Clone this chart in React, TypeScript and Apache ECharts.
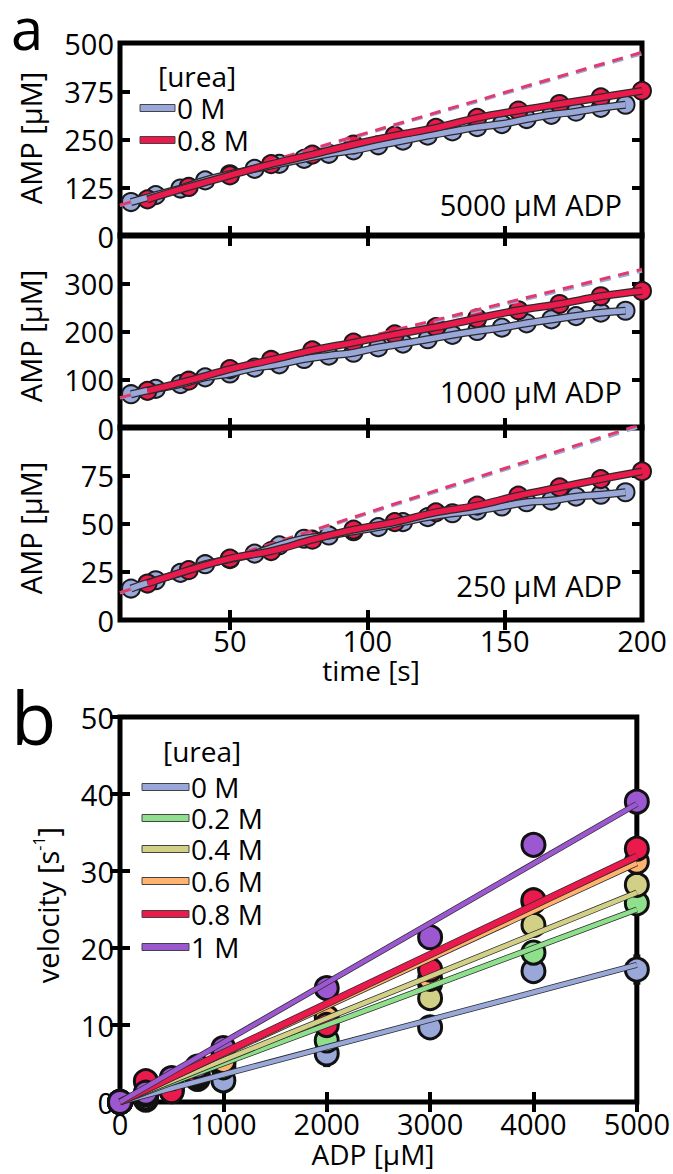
import React, { useEffect, useRef } from "react";
import * as echarts from "echarts";

const FONT = "'Open Sans', sans-serif";

// ---------- Panel a data ----------
const T_BLUE = [14, 23, 32, 41, 50, 59, 68, 77, 86, 95, 104, 113, 122, 131, 140, 149, 158, 167, 176, 185, 194];
const T_RED = [20, 35, 50, 65, 80, 95, 110, 125, 140, 155, 170, 185, 200];
const TIME_TICKS = [50, 100, 150, 200];
const DASH_T = [10, 200];

const AMP5000_0M = [88, 106, 123, 144, 160, 174, 187, 200, 213, 222, 235, 247, 260, 271, 282, 290, 303, 314, 322, 332, 340];
const AMP5000_08M = [95, 127, 157, 186, 211, 237, 260, 280, 306, 325, 342, 359, 376];
const AMP1000_0M = [70, 81, 91, 105, 113, 125, 132, 143, 150, 156, 167, 175, 184, 193, 201, 208, 217, 225, 232, 239, 243];
const AMP1000_08M = [77, 98, 122, 141, 161, 177, 194, 209, 227, 244, 257, 273, 284];
const AMP250_0M = [16.3, 20.6, 24.4, 28.9, 31.5, 34.4, 38.7, 42.1, 43.8, 46, 48.1, 50.7, 53.3, 55.3, 56.7, 58.8, 61, 61.9, 63.9, 64.9, 66.2];
const AMP250_08M = [18.9, 25.8, 31.8, 35.7, 41.6, 46.8, 50.7, 55.8, 59.3, 64.4, 68.7, 73, 77];

const DASH5000_0M = [79, 472];
const DASH5000_08M = [80, 476];
const DASH1000_0M = [62, 325];
const DASH1000_08M = [63, 329];
const DASH250_0M = [14, 100.5];
const DASH250_08M = [14.2, 101.5];

const PANEL_LABELS = ["5000 μM ADP", "1000 μM ADP", "250 μM ADP"];
const Y_MAX = [500, 400, 100];
const Y_STEP = [125, 100, 25];
const A_LEGEND = ["0 M", "0.8 M"];

// ---------- Panel b data ----------
const ADP = [0, 250, 500, 750, 1000, 2000, 3000, 4000, 5000];
const UREA = ["0 M", "0.2 M", "0.4 M", "0.6 M", "0.8 M", "1 M"];
const V_0 = [0, 0.8, 1.5, 3.0, 2.8, 6.3, 9.7, 17.0, 17.2];
const V_02 = [0, 0.3, 1.8, 3.2, 4.5, 8.0, 15.4, 19.4, 25.8];
const V_04 = [0, 0.6, 2.0, 3.4, 5.0, 10.5, 13.5, 23.0, 28.2];
const V_06 = [0, 1.0, 2.2, 3.6, 5.3, 11.0, 16.0, 26.0, 31.2];
const V_08 = [0, 2.7, 1.4, 3.8, 6.5, 10.0, 17.2, 26.2, 32.9];
const V_1 = [0, 1.2, 3.1, 4.6, 7.0, 14.8, 21.4, 33.4, 39.0];
const E_0 = [0.2, 0.3, 0.3, 0.4, 0.6, 1.6, 0.7, 0.5, 1.8];
const E_02 = [0.2, 0.3, 0.4, 0.4, 0.6, 1.2, 0.8, 0.6, 0.8];
const E_04 = [0.2, 0.3, 0.4, 0.4, 0.6, 0.9, 0.7, 0.6, 0.8];
const E_06 = [0.2, 0.4, 0.4, 0.5, 0.7, 1.5, 0.8, 0.6, 0.9];
const E_08 = [0.2, 0.5, 0.4, 0.5, 0.7, 1.0, 0.6, 0.9, 0.7];
const E_1 = [0.2, 0.3, 0.4, 0.4, 0.6, 0.3, 0.5, 0.6, 0.4];
const FIT_X = [0, 5000];
const FIT_END = [17.8, 25.0, 27.2, 31.0, 31.9, 38.7];

const BLUE = "#9aa7d9";
const RED = "#ea1a4d";
const B_COLORS = ["#99a7d9", "#8fe08c", "#d2cf86", "#ffb36e", "#ea1a4d", "#9b58d0"];

const GRID_A = [
  { top: 43, height: 193 },
  { top: 235, height: 193 },
  { top: 427, height: 193 },
];
const LEFT = 120;
const WIDTH = 522;

export default function App() {
  const ref = useRef<HTMLDivElement>(null);
  useEffect(() => {
    document.body.style.margin = "0";
    const chart = echarts.init(ref.current!, null, { renderer: "svg" });

    const tickStyle = { show: true, inside: true, length: 10, lineStyle: { color: "#000", width: 4 } };
    const labelStyle = { color: "#000", fontSize: 29, fontFamily: FONT, lineHeight: 24, formatter: (v: number) => String(v) };

    const grids: any[] = [];
    const xAxes: any[] = [];
    const yAxes: any[] = [];
    const series: any[] = [];

    const aSets = [
      { b: AMP5000_0M, r: AMP5000_08M, db: DASH5000_0M, dr: DASH5000_08M },
      { b: AMP1000_0M, r: AMP1000_08M, db: DASH1000_0M, dr: DASH1000_08M },
      { b: AMP250_0M, r: AMP250_08M, db: DASH250_0M, dr: DASH250_08M },
    ];

    GRID_A.forEach((g, i) => {
      grids.push({ left: LEFT, width: WIDTH, top: g.top, height: g.height, show: true, borderColor: "#000", borderWidth: 5, backgroundColor: "transparent" });
      const xBase = {
        type: "value", gridIndex: i, min: 10, max: 200,
        axisLine: { show: false }, splitLine: { show: false },
      };
      xAxes.push({
        ...xBase, position: "bottom",
        axisTick: { ...tickStyle, customValues: [50, 100, 150] },
        axisLabel: { ...labelStyle, show: i === 2, customValues: TIME_TICKS, margin: 8 },
      });
      xAxes.push({
        ...xBase, position: "top",
        axisTick: { ...tickStyle, customValues: [50, 100, 150] },
        axisLabel: { show: false },
      });
      const yBase = {
        type: "value", gridIndex: i, min: 0, max: Y_MAX[i], interval: Y_STEP[i],
        axisLine: { show: false }, splitLine: { show: false },
      };
      yAxes.push({
        ...yBase, position: "left", axisTick: tickStyle,
        axisLabel: { ...labelStyle, margin: 6, showMaxLabel: i === 0, showMinLabel: true },
      });
      yAxes.push({ ...yBase, position: "right", axisTick: tickStyle, axisLabel: { show: false } });

      const s = aSets[i];
      const xi = i * 2;
      const yi = i * 2;
      const dash = (vals: number[], color: string) => ({
        type: "line", xAxisIndex: xi, yAxisIndex: yi, symbol: "none", silent: true,
        data: DASH_T.map((t, k) => [t, vals[k]]),
        lineStyle: { color, width: 3, type: [11, 8] },
      });
      series.push(dash(s.db, BLUE));
      series.push(dash(s.dr, "#e23a6c"));
      const band = (ts: number[], vals: number[], color: string) => [
        {
          type: "line", xAxisIndex: xi, yAxisIndex: yi, symbol: "none", smooth: 0.4, silent: true,
          data: ts.map((t, k) => [t, vals[k]]), lineStyle: { color: "#2a2a2a", width: 8 },
        },
        {
          type: "line", xAxisIndex: xi, yAxisIndex: yi, symbol: "none", smooth: 0.4, silent: true,
          data: ts.map((t, k) => [t, vals[k]]), lineStyle: { color, width: 5.5 },
        },
      ];
      series.push(...band(T_BLUE, s.b, BLUE));
      series.push(...band(T_RED, s.r, RED));
      const pts = (ts: number[], vals: number[], color: string) => ({
        type: "scatter", xAxisIndex: xi, yAxisIndex: yi, symbol: "circle", symbolSize: 18,
        data: ts.map((t, k) => [t, vals[k]]),
        itemStyle: { color, borderColor: "#1a1a1a", borderWidth: 2, opacity: 1 },
      });
      series.push(pts(T_BLUE, s.b, BLUE));
      series.push(pts(T_RED, s.r, RED));
    });

    // panel b
    const gb = 3;
    grids.push({ left: LEFT, width: WIDTH, top: 717, height: 385, show: true, borderColor: "#000", borderWidth: 5, backgroundColor: "transparent" });
    const xbBase = { type: "value", gridIndex: gb, min: 0, max: 5000, interval: 1000, axisLine: { show: false }, splitLine: { show: false } };
    xAxes.push({ ...xbBase, position: "bottom", axisTick: tickStyle, axisLabel: { ...labelStyle, margin: 9, showMaxLabel: true, showMinLabel: true } });
    xAxes.push({ ...xbBase, position: "top", axisTick: tickStyle, axisLabel: { show: false } });
    const ybBase = { type: "value", gridIndex: gb, min: 0, max: 50, interval: 10, axisLine: { show: false }, splitLine: { show: false } };
    yAxes.push({ ...ybBase, position: "left", axisTick: tickStyle, axisLabel: { ...labelStyle, margin: 6, showMaxLabel: true, showMinLabel: true } });
    yAxes.push({ ...ybBase, position: "right", axisTick: tickStyle, axisLabel: { show: false } });

    const V = [V_0, V_02, V_04, V_06, V_08, V_1];
    const E = [E_0, E_02, E_04, E_06, E_08, E_1];
    const xbi = 6;
    const ybi = 6;
    FIT_END.forEach((end, k) => {
      const d = FIT_X.map((x, j) => [x, j === 0 ? 0 : end]);
      series.push({ type: "line", xAxisIndex: xbi, yAxisIndex: ybi, symbol: "none", silent: true, data: d, lineStyle: { color: "#2a2a2a", width: k === 4 ? 7.5 : 6 } });
      series.push({ type: "line", xAxisIndex: xbi, yAxisIndex: ybi, symbol: "none", silent: true, data: d, lineStyle: { color: B_COLORS[k], width: k === 4 ? 6 : 4.5 } });
    });
    V.forEach((vals, k) => {
      series.push({
        type: "scatter", xAxisIndex: xbi, yAxisIndex: ybi, symbol: "circle", symbolSize: 23,
        data: ADP.map((x, j) => [x, vals[j]]),
        itemStyle: { color: B_COLORS[k], borderColor: "#111", borderWidth: 3, opacity: 1 },
      });
      series.push({
        type: "custom", xAxisIndex: xbi, yAxisIndex: ybi, silent: true,
        data: ADP.map((x, j) => [x, vals[j], E[k][j]]),
        encode: { x: 0, y: 1 },
        renderItem: (params: any, api: any) => {
          const x = api.value(0);
          const y = api.value(1);
          const e = api.value(2);
          const top = api.coord([x, y + e]);
          const bot = api.coord([x, y - e]);
          const hw = 3.5;
          const st = { stroke: "#111", lineWidth: 2.2 };
          return {
            type: "group",
            children: [
              { type: "line", shape: { x1: top[0], y1: top[1], x2: bot[0], y2: bot[1] }, style: st },
              { type: "line", shape: { x1: top[0] - hw, y1: top[1], x2: top[0] + hw, y2: top[1] }, style: { ...st, lineWidth: 2.6 } },
              { type: "line", shape: { x1: bot[0] - hw, y1: bot[1], x2: bot[0] + hw, y2: bot[1] }, style: { ...st, lineWidth: 2.6 } },
            ],
          };
        },
      });
    });

    const txt = (text: string, x: number, y: number, opts: any = {}) => ({
      type: "text", x, y, rotation: opts.rotation || 0, z: 100,
      style: {
        text, fill: "#000", fontFamily: FONT, fontSize: opts.fontSize || 29,
        lineHeight: opts.lineHeight || 24,
        align: opts.align || "left", verticalAlign: "middle",
      },
    });

    const graphic: any[] = [
      txt("a", 11, 27, { fontSize: 58, lineHeight: 40 }),
      txt("b", 11, 716, { fontSize: 74, lineHeight: 56 }),
      txt("AMP [μM]", 30, 138, { rotation: Math.PI / 2, align: "center" }),
      txt("AMP [μM]", 30, 336, { rotation: Math.PI / 2, align: "center" }),
      txt("AMP [μM]", 30, 528, { rotation: Math.PI / 2, align: "center" }),
      txt("time [s]", 371, 670, { align: "center", fontSize: 28 }),
      txt("ADP [μM]", 373, 1154, { align: "center", fontSize: 28 }),
      {
        type: "text", x: 47, y: 905, rotation: Math.PI / 2, z: 100,
        style: {
          text: "{m|velocity [s}{s|-1}{m|]}", align: "center", verticalAlign: "middle",
          rich: {
            m: { fontFamily: FONT, fontSize: 29, fill: "#000", lineHeight: 24 },
            s: { fontFamily: FONT, fontSize: 16, fill: "#000", padding: [0, 0, 16, 0] },
          },
        },
      },
      txt("[urea]", 158, 76, { fontSize: 28 }),
      txt("[urea]", 163, 751, { fontSize: 28 }),
    ];
    PANEL_LABELS.forEach((l, i) => {
      graphic.push(txt(l, 622, [204, 391, 585][i], { align: "right" }));
    });
    A_LEGEND.forEach((l, i) => {
      const y = [108, 140][i];
      graphic.push({ type: "rect", z: 100, shape: { x: 140, y: y - 3.5, width: 35, height: 7 }, style: { fill: [BLUE, RED][i], stroke: "#444", lineWidth: 1 } });
      graphic.push(txt(l, 177, y, { fontSize: 28 }));
    });
    UREA.forEach((l, i) => {
      const y = [787, 818, 849, 881, 914, 947][i];
      graphic.push({ type: "rect", z: 100, shape: { x: 142, y: y - 3.5, width: 47, height: 7 }, style: { fill: B_COLORS[i], stroke: "#444", lineWidth: 1 } });
      graphic.push(txt(l, 191, y, { fontSize: 28 }));
    });

    chart.setOption({
      animation: false,
      backgroundColor: "#fff",
      grid: grids,
      xAxis: xAxes,
      yAxis: yAxes,
      series,
      graphic,
    });
    return () => chart.dispose();
  }, []);
  return <div ref={ref} style={{ width: 673, height: 1174 }} />;
}
